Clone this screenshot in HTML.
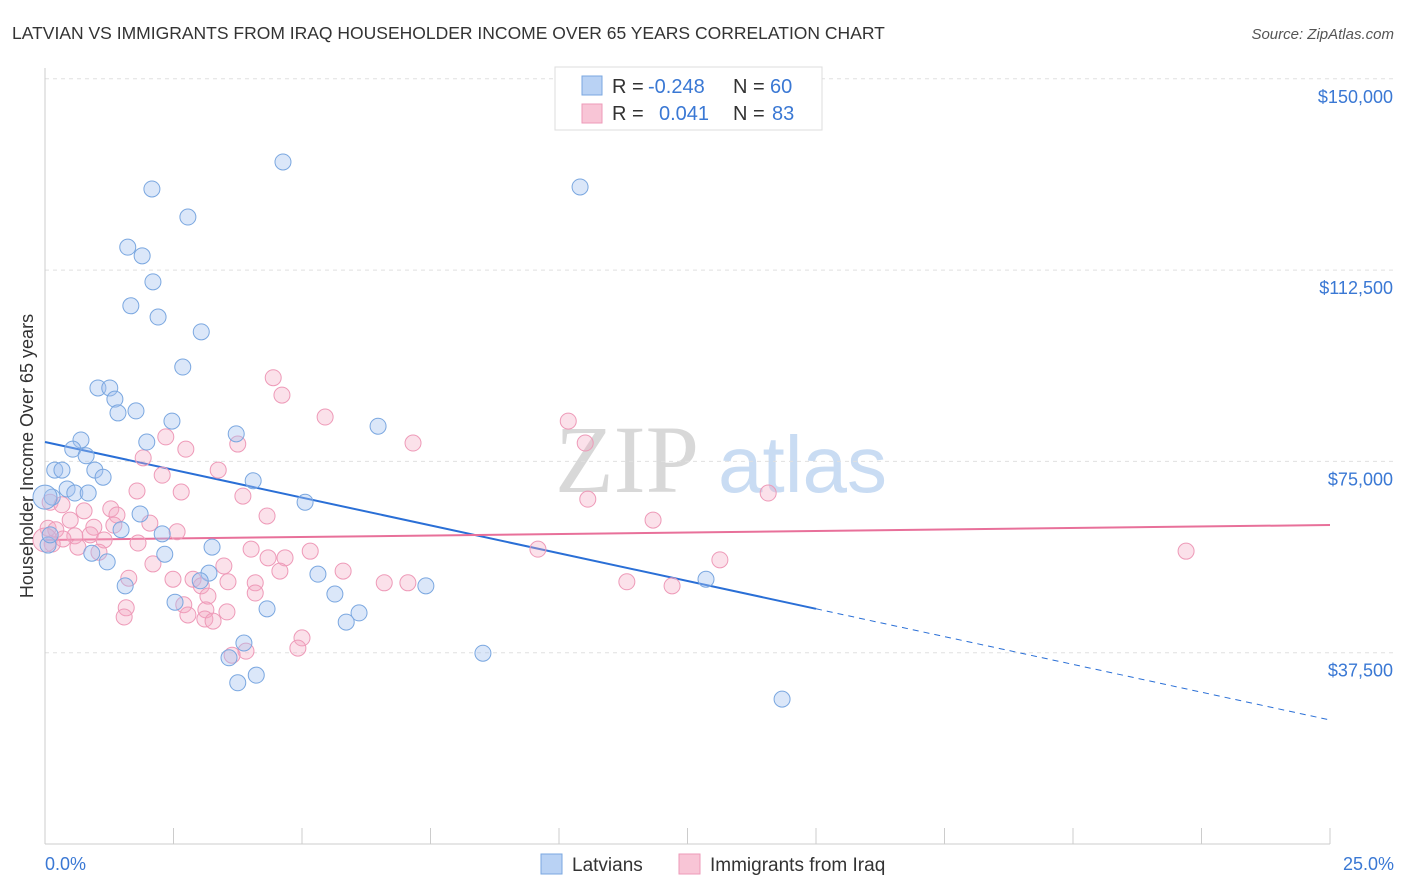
<!DOCTYPE html>
<html><head><meta charset="utf-8"><style>
body{margin:0;background:#fff;font-family:"Liberation Sans",sans-serif}
svg{display:block}
</style></head><body>
<svg width="1406" height="892">
<text x="12" y="39" font-size="17.5" fill="#333">LATVIAN VS IMMIGRANTS FROM IRAQ HOUSEHOLDER INCOME OVER 65 YEARS CORRELATION CHART</text>
<text x="1394" y="39" font-size="15" fill="#555" font-style="italic" text-anchor="end">Source: ZipAtlas.com</text>
<g>
<text x="555" y="492" font-size="96" fill="#d8d8d8" font-family="Liberation Serif,serif">ZIP</text>
<text x="718" y="492" font-size="80" fill="#c9dcf3">atlas</text>
</g>
<g id="grid"></g><g id="axes"></g><g id="lines"></g><g id="pts"></g>
<text transform="translate(33,456) rotate(-90)" font-size="18" fill="#333" text-anchor="middle">Householder Income Over 65 years</text>
<text x="45" y="870" font-size="18" fill="#3a78d4">0.0%</text>
<text x="1394" y="870" font-size="18" fill="#3a78d4" text-anchor="end">25.0%</text>
<g>
<rect x="555" y="67" width="267" height="63" fill="#fff" stroke="#ddd"/>
<rect x="582" y="76" width="20" height="19" fill="#b9d2f4" stroke="#7aa7e0"/>
<rect x="582" y="104" width="20" height="19" fill="#f8c5d6" stroke="#ee9ab8"/>
<g font-size="20" fill="#333">
<text x="612" y="93">R =</text>
<text x="648" y="93" fill="#3a78d4">-0.248</text>
<text x="733" y="93">N =</text>
<text x="770" y="93" fill="#3a78d4">60</text>
<text x="612" y="120">R =</text>
<text x="659" y="120" fill="#3a78d4">0.041</text>
<text x="733" y="120">N =</text>
<text x="772" y="120" fill="#3a78d4">83</text>
</g>
</g>
<g>
<rect x="541" y="854" width="21" height="20" fill="#b9d2f4" stroke="#7aa7e0"/>
<text x="572" y="871" font-size="19" fill="#333">Latvians</text>
<rect x="679" y="854" width="21" height="20" fill="#f8c5d6" stroke="#ee9ab8"/>
<text x="710" y="871" font-size="19" fill="#333">Immigrants from Iraq</text>
</g>
</svg>
<script>
const yTicks=[37500,75000,112500,150000];
const yTickLabels=["$37,500","$75,000","$112,500","$150,000"];
const xTicks=[0,2.5,5,7.5,10,12.5,15,17.5,20,22.5,25];
const latX=[4.63,2.08,10.41,2.78,1.61,1.89,2.10,1.67,2.20,3.04,2.68,1.03,1.26,1.36,1.77,1.42,2.47,6.48,3.72,0.70,1.98,0.54,0.80,0.19,0.33,0.97,1.13,4.05,0.43,0.58,0.84,0.14,5.06,1.85,1.48,2.28,3.25,0.91,2.33,1.21,5.31,3.19,3.02,1.56,7.41,5.64,2.53,4.32,6.11,5.86,12.86,8.52,3.87,3.58,4.11,3.75,14.34,0.06,0.10,0.0];
const latY=[133.7,128.4,128.8,122.9,117.0,115.3,110.2,105.5,103.3,100.4,93.5,89.4,89.4,87.2,84.9,84.5,82.9,81.9,80.4,79.2,78.8,77.4,76.1,73.3,73.3,73.3,71.9,71.2,69.6,68.8,68.8,68.0,67.0,64.7,61.6,60.8,58.2,57.0,56.8,55.3,52.9,53.1,51.6,50.6,50.6,49.0,47.4,46.1,45.3,43.5,51.9,37.4,39.4,36.5,33.1,31.6,28.4,58.6,60.6,68.0];
const iraqX=[4.44,4.61,5.45,2.35,3.75,7.16,10.18,10.51,2.74,1.91,3.37,2.28,10.56,14.07,1.79,2.65,3.85,0.10,0.33,1.28,0.76,1.40,4.32,11.83,0.49,2.04,2.57,1.34,0.95,0.06,0.21,0.88,0.58,1.15,0.35,1.81,0.14,0.64,4.01,5.16,9.59,22.2,1.05,4.34,4.67,13.13,2.10,3.48,5.80,4.57,1.63,2.49,2.88,3.56,4.09,6.60,7.06,11.32,3.04,12.2,3.17,4.09,2.70,1.58,3.13,3.54,2.78,1.54,3.11,3.27,5.0,4.92,3.91,3.64,0.0];
const iraqY=[91.4,88.0,83.7,79.8,78.4,78.6,82.9,78.6,77.4,75.7,73.3,72.3,67.6,68.8,69.2,69.0,68.2,67.0,66.5,65.7,65.3,64.5,64.3,63.5,63.5,62.9,61.2,62.5,62.1,61.9,61.6,60.6,60.4,59.6,59.8,59.0,58.8,58.2,57.8,57.4,57.8,57.4,57.2,56.1,56.1,55.7,54.9,54.5,53.5,53.5,52.1,51.9,51.9,51.4,51.2,51.2,51.2,51.4,50.6,50.6,48.6,49.2,46.9,46.3,45.9,45.5,44.9,44.5,44.1,43.7,40.4,38.4,37.8,37.0,59.6];
const latTrend=[78803,24307];
const iraqTrend=[59593,62533];
const latSolidEnd=15;
const NS="http://www.w3.org/2000/svg";
const sx=v=>45+v/25*1285;
const sy=v=>844-v/37500*191.3;
function mk(p,t,a){const e=document.createElementNS(NS,t);for(const k in a)e.setAttribute(k,a[k]);p.appendChild(e);return e;}
const grid=document.getElementById('grid'),axes=document.getElementById('axes'),lines=document.getElementById('lines'),pts=document.getElementById('pts');
yTicks.forEach((v,i)=>{
 const l=mk(grid,'line',{x1:45,x2:1395,y1:sy(v),y2:sy(v),stroke:'#e0e0e0','stroke-dasharray':'4,4'});
 
 
 const t=mk(grid,'text',{x:1393,y:sy(v)+24,'font-size':18,fill:'#3a78d4','text-anchor':'end'});
 t.textContent=yTickLabels[i];
 
 
});
const ax=mk(axes,'line',{x1:45,x2:1330,y1:844,y2:844,stroke:'#ccc'});


const ay=mk(axes,'line',{x1:45,x2:45,y1:68,y2:844,stroke:'#ccc'});


xTicks.forEach(v=>{
 const t=mk(axes,'line',{x1:sx(v),x2:sx(v),y1:828,y2:844,stroke:'#ccc'});
 
 
});
function dot(x,y,f,s,n){
 const r=x===0?12:8;
 const c=mk(pts,'circle',{cx:sx(x),cy:sy(y*1000),r:r,fill:f,stroke:s,'stroke-width':1});
 
 
}
iraqX.forEach((x,i)=>dot(x,iraqY[i],'rgba(244,170,196,0.35)','#ee9ab8','point-iraq'));
latX.forEach((x,i)=>dot(x,latY[i],'rgba(164,196,240,0.4)','#7aa7e0','point-latvians'));
const lv=x=>latTrend[0]+(latTrend[1]-latTrend[0])*x/25;
const l1=mk(lines,'line',{x1:sx(0),y1:sy(lv(0)),x2:sx(latSolidEnd),y2:sy(lv(latSolidEnd)),stroke:'#2a6fd6','stroke-width':2});


const l2=mk(lines,'line',{x1:sx(latSolidEnd),y1:sy(lv(latSolidEnd)),x2:sx(25),y2:sy(lv(25)),stroke:'#2a6fd6','stroke-width':1,'stroke-dasharray':'6,5'});


const l3=mk(lines,'line',{x1:sx(0),y1:sy(iraqTrend[0]),x2:sx(25),y2:sy(iraqTrend[1]),stroke:'#e8709a','stroke-width':2});


</script>
</body></html>
